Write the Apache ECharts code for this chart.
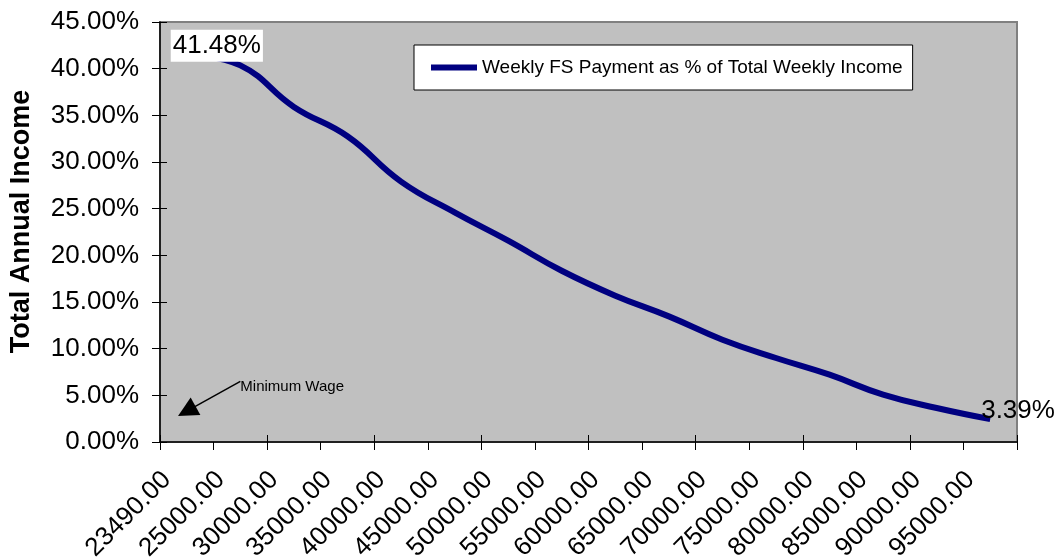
<!DOCTYPE html>
<html>
<head>
<meta charset="utf-8">
<script src="https://cdn.jsdelivr.net/npm/echarts@6/dist/echarts.min.js"></script>
<style>
  html, body { margin: 0; padding: 0; background: #ffffff; }
  #chart { width: 1058px; height: 558px; }
</style>
</head>
<body>
<div id="chart"></div>
<script>
// ---- data ----
const categories = ['23490.00', '25000.00', '30000.00', '35000.00', '40000.00', '45000.00',
  '50000.00', '55000.00', '60000.00', '65000.00', '70000.00', '75000.00',
  '80000.00', '85000.00', '90000.00', '95000.00'];
const seriesName = 'Weekly FS Payment as % of Total Weekly Income';
const paymentShare = [41.48, 40.35, 35.9, 32.75, 27.9, 24.6, 21.57, 18.35, 15.68, 13.46,
  10.96, 9.0, 7.21, 5.07, 3.64, 2.45];
const endLabelTexts = ['41.48%', '3.39%'];
const yTicks = { min: 0, max: 45, interval: 5 };
const axisTitle = 'Total Annual Income';
const noteText = 'Minimum Wage';
const noteArrow = { from: [1, 6.5], to: [0, 3.3] };
const notePoint = [1, 5.9];

const FONT = 'Arial, "Liberation Sans", sans-serif';

const seriesData = paymentShare.map((v, i) => {
  if (i === 0) {
    return { value: v, label: { show: true, formatter: endLabelTexts[0], position: [-16, -25],
      backgroundColor: '#ffffff', padding: [0, 2, 0, 2], lineHeight: 32 } };
  }
  if (i === paymentShare.length - 1) {
    return { value: v, label: { show: true, formatter: endLabelTexts[1], position: [-9, -24],
      lineHeight: 32 } };
  }
  return v;
});

const chart = echarts.init(document.getElementById('chart'), null, { renderer: 'canvas' });
chart.setOption({
  animation: false,
  backgroundColor: '#ffffff',
  textStyle: { fontFamily: FONT },
  grid: {
    left: 160, right: 41, top: 22, bottom: 116,
    containLabel: false,
    outerBoundsMode: 'none',
    show: true, backgroundColor: '#C0C0C0', borderColor: '#808080', borderWidth: 2
  },
  legend: {
    show: true,
    left: 414, top: 45,
    backgroundColor: '#ffffff', borderColor: '#000000', borderWidth: 1,
    padding: [12, 10, 12, 17],
    icon: 'rect', itemWidth: 46, itemHeight: 6, itemGap: 5,
    textStyle: { fontFamily: FONT, fontSize: 19, color: '#000', lineHeight: 21 },
    data: [seriesName]
  },
  xAxis: [{
    type: 'category',
    data: categories,
    boundaryGap: true,
    position: 'bottom',
    axisLine: { show: true, lineStyle: { color: '#000', width: 1.5 } },
    axisTick: { show: true, inside: false, length: 8, lineStyle: { color: '#000', width: 1 } },
    axisLabel: { interval: 0, rotate: 45, fontSize: 26, color: '#000', fontFamily: FONT,
      margin: 14, padding: [0, 28, 0, 0] },
    splitLine: { show: false }
  }, {
    type: 'category',
    data: categories,
    boundaryGap: true,
    position: 'bottom',
    axisLine: { show: false },
    axisTick: { show: true, inside: true, length: 7, lineStyle: { color: '#000', width: 1 } },
    axisLabel: { show: false },
    splitLine: { show: false }
  }],
  yAxis: [{
    type: 'value',
    min: yTicks.min, max: yTicks.max, interval: yTicks.interval,
    position: 'left',
    name: axisTitle,
    nameLocation: 'middle',
    nameGap: 125,
    nameRotate: 90,
    nameTextStyle: { fontSize: 27, fontWeight: 'bold', color: '#000', fontFamily: FONT,
      padding: [0, 0, 0, 21] },
    axisLine: { show: true, lineStyle: { color: '#000', width: 1.5 } },
    axisTick: { show: true, inside: false, length: 8, lineStyle: { color: '#000', width: 1 } },
    axisLabel: { fontSize: 26, color: '#000', fontFamily: FONT, margin: 21,
      formatter: v => v.toFixed(2) + '%' },
    splitLine: { show: false }
  }, {
    type: 'value',
    min: yTicks.min, max: yTicks.max, interval: yTicks.interval,
    position: 'left',
    axisLine: { show: false },
    axisTick: { show: true, inside: true, length: 7, lineStyle: { color: '#000', width: 1 } },
    axisLabel: { show: false },
    splitLine: { show: false }
  }],
  series: [{
    name: seriesName,
    type: 'line',
    xAxisIndex: 0,
    yAxisIndex: 0,
    data: seriesData,
    smooth: 0.45,
    symbol: 'circle',
    symbolSize: 0.1,
    showSymbol: true,
    itemStyle: { color: '#000080' },
    lineStyle: { color: '#000080', width: 6 },
    label: { show: false, fontSize: 26, color: '#000', fontFamily: FONT },
    markLine: {
      silent: true,
      symbol: ['none', 'triangle'],
      symbolSize: [20, 20],
      label: { show: false },
      lineStyle: { color: '#000', width: 1.5, type: 'solid' },
      data: [[{ coord: noteArrow.from }, { coord: noteArrow.to }]]
    },
    markPoint: {
      silent: true,
      symbol: 'circle',
      symbolSize: 0,
      label: { show: true, position: 'right', distance: 0, formatter: noteText,
        fontSize: 15, color: '#000', fontFamily: FONT },
      data: [{ coord: notePoint }]
    }
  }]
});
</script>
</body>
</html>
